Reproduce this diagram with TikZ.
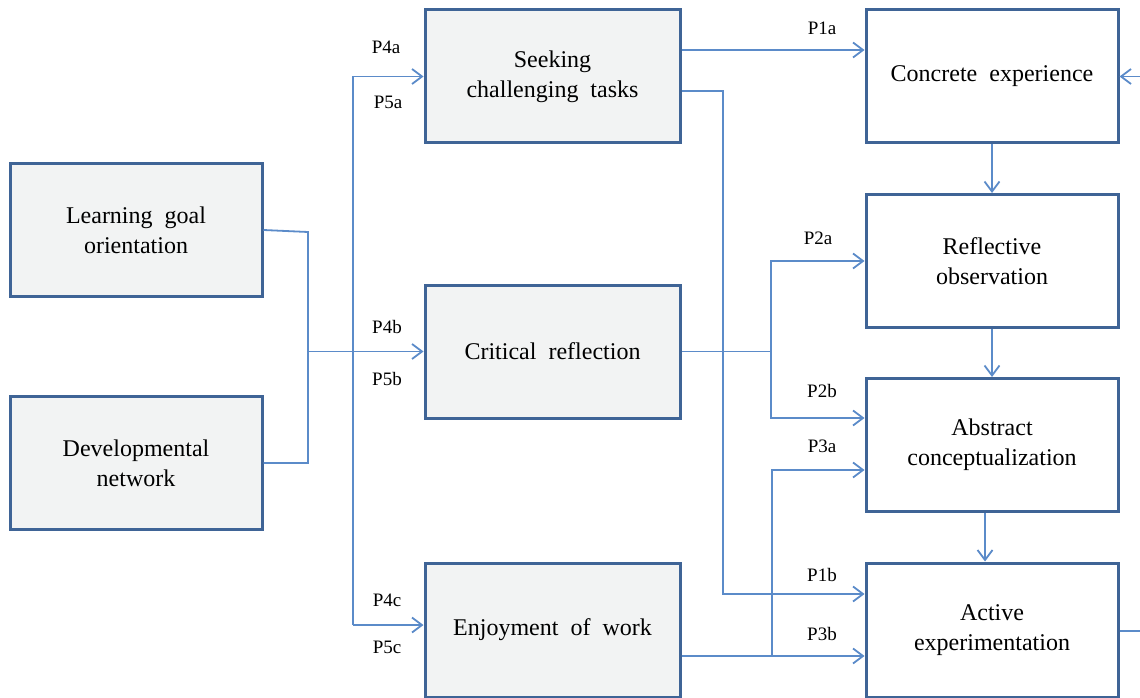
\documentclass[tikz,border=0pt]{standalone}
\usepackage{fontspec}
\setmainfont{Liberation Serif}
\usetikzlibrary{arrows.meta}
\definecolor{boxborder}{HTML}{3F6496}
\definecolor{conncol}{HTML}{5B8BC9}
\definecolor{boxfill}{HTML}{F2F3F3}
\begin{document}
\begin{tikzpicture}[x=1pt,y=-1pt,
  box/.style={draw=boxborder,line width=3pt,minimum width=252pt,minimum height=133pt,align=center,
    font=\fontsize{24}{30}\selectfont,inner sep=0pt},
  greybox/.style={box,fill=boxfill},
  whitebox/.style={box,fill=white},
  conn/.style={draw=conncol,line width=1.8pt},
  arr/.style={conn,-{Straight Barb[length=10pt,width=15pt,line width=1.8pt]}},
  lab/.style={font=\fontsize{19}{22}\selectfont,inner sep=0pt}]
\useasboundingbox (0,0) rectangle (1140,698);
% boxes
\node[greybox] (lgo) at (136,230) {Learning\ \ goal\\orientation};
\node[greybox] (dn) at (136,463) {Developmental\\network};
\node[greybox,minimum width=255pt] (seek) at (552.5,76.5) {Seeking\\challenging\ \ tasks};
\node[greybox,minimum width=255pt] (crit) at (552.5,351.5) {Critical\ \ reflection};
\node[greybox,minimum width=255pt,minimum height=134pt] (enj) at (552.5,630) {Enjoyment\ \ of\ \ work};
\node[whitebox] (ce) at (992,76.5) {Concrete\ \ experience};
\node[whitebox] (ro) at (992,261) {Reflective\\observation};
\node[whitebox] (ac) at (992,445) {Abstract\\conceptualization};
\node[whitebox,minimum height=134pt] (ae) at (992,630) {Active\\experimentation};
% coordinates
\coordinate (j) at (308,351.5);
\coordinate (vtop) at (353,76.5);
\coordinate (vbot) at (353,625);
\coordinate (p1a) at (0,50);
\coordinate (s1) at (723,91);
\coordinate (s1b) at (723,594);
\coordinate (c1) at (771,351.5);
\coordinate (c2a) at (771,261);
\coordinate (c2b) at (771,418);
\coordinate (e1) at (772,656);
\coordinate (e3a) at (772,470);
\coordinate (rin) at (1140,76.5);
\coordinate (rout) at (1140,631);
% left connectors
\draw[conn] (lgo.east) -- (308,232) -- (308,463) -- (dn.east);
\draw[arr] (j) -- (crit.west);
\draw[conn] (vbot) -- (vtop);
\draw[arr] (vtop) -- (seek.west);
\draw[arr] (vbot) -- (enj.west |- vbot);
% middle connectors
\draw[arr] (seek.east |- p1a) -- (ce.west |- p1a);
\draw[arr] (seek.east |- s1) -- (s1) -- (s1b) -- (ae.west |- s1b);
\draw[conn] (crit.east) -- (c1);
\draw[arr] (c1) -- (c2a) -- (ro.west |- c2a);
\draw[arr] (c1) -- (c2b) -- (ac.west |- c2b);
\draw[arr] (enj.east |- e1) -- (ae.west |- e1);
\draw[arr] (e1) -- (e3a) -- (ac.west |- e3a);
% right column
\draw[arr] (ce.south) -- (ro.north);
\draw[arr] (ro.south) -- (ac.north);
\draw[arr] (ac.south -| 985,0) -- (ae.north -| 985,0);
\draw[arr] (rin) -- (ce.east);
\draw[conn] (ae.east |- rout) -- (rout);
% labels
\node[lab] (l4a) at (386,47) {P4a};
\node[lab] (l5a) at (388,102) {P5a};
\node[lab] (l4b) at (387,327) {P4b};
\node[lab] (l5b) at (387,379) {P5b};
\node[lab] (l4c) at (387,600) {P4c};
\node[lab] (l5c) at (387,647) {P5c};
\node[lab] (l1a) at (822,28) {P1a};
\node[lab] (l2a) at (818,238) {P2a};
\node[lab] (l2b) at (822,391) {P2b};
\node[lab] (l3a) at (822,446) {P3a};
\node[lab] (l1b) at (822,575) {P1b};
\node[lab] (l3b) at (822,634) {P3b};
\end{tikzpicture}
\end{document}
